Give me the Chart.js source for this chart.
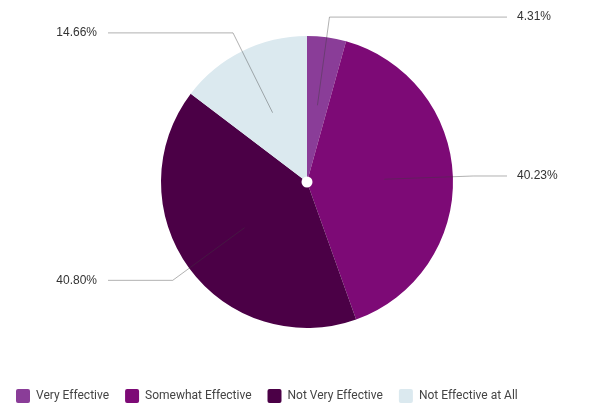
<!DOCTYPE html>
<html>
<head>
<meta charset="utf-8">
<script src="https://cdn.jsdelivr.net/npm/chart.js@4"></script>
<style>
  html, body { margin: 0; padding: 0; background: #fff; overflow: hidden; width: 596px; height: 405px; }
  /* canvas a bit bigger than the window so the pie sits where the original has it */
  #wrap { width: 614px; height: 422px; margin-top: -9px; }
</style>
</head>
<body>
<div id="wrap"><canvas id="pieChart"></canvas></div>
<script>
// data
const labels = ['Very Effective', 'Somewhat Effective', 'Not Very Effective', 'Not Effective at All'];
const shares = [4.31, 40.23, 40.80, 14.66];
const colors = ['#8a3d98', '#7d0a76', '#4b0046', '#dbe9ef'];

// leader lines + percent labels
const leaderLines = {
    id: 'leaderLines',
    afterDatasetsDraw(chart) {
        const ctx = chart.ctx;
        const arcs = chart.getDatasetMeta(0).data;
        ctx.save();
        arcs.forEach((arc, i) => {
            const p = arc.getProps(['x', 'y', 'startAngle', 'endAngle', 'outerRadius'], true);
            const mid = (p.startAngle + p.endAngle) / 2;
            const r0 = p.outerRadius * 0.53;
            const r1 = p.outerRadius * 1.14;
            const x0 = p.x + Math.cos(mid) * r0, y0 = p.y + Math.sin(mid) * r0;
            const x1 = p.x + Math.cos(mid) * r1, y1 = p.y + Math.sin(mid) * r1;
            const right = Math.cos(mid) >= 0;
            const x2 = right ? p.x + 200 : p.x - 199;
            ctx.strokeStyle = 'rgba(60,60,60,0.4)';
            ctx.lineWidth = 1;
            ctx.beginPath();
            ctx.moveTo(x0, y0);
            ctx.lineTo(x1, y1);
            ctx.lineTo(x2, y1);
            ctx.stroke();
            ctx.fillStyle = '#333';
            ctx.font = '12px "Liberation Sans", Arial, sans-serif';
            ctx.textBaseline = 'middle';
            ctx.textAlign = right ? 'left' : 'right';
            ctx.fillText(shares[i].toFixed(2) + '%', right ? x2 + 10 : x2 - 11, y1);
        });
        // little white dot in the middle
        const c = arcs[0];
        ctx.fillStyle = '#fff';
        ctx.beginPath();
        ctx.arc(c.x, c.y, 5.5, 0, Math.PI * 2);
        ctx.fill();
        ctx.restore();
    }
};

const ctx = document.getElementById('pieChart').getContext('2d');
const pieChart = new Chart(ctx, {
    type: 'pie',
    data: {
        labels: labels,
        datasets: [{
            data: shares,
            backgroundColor: colors,
            borderWidth: 0,
            radius: 146
        }]
    },
    options: {
        responsive: true,
        maintainAspectRatio: false,
        animation: false,
        plugins: {
            tooltip: { enabled: false },
            legend: {
                position: 'bottom',
                align: 'start',
                labels: {
                    boxWidth: 14,
                    boxHeight: 14,
                    padding: 16,
                    useBorderRadius: true,
                    borderRadius: 2,
                    color: '#444',
                    font: { family: 'Roboto', size: 12 }
                }
            }
        }
    },
    plugins: [leaderLines]
});
</script>
</body>
</html>
